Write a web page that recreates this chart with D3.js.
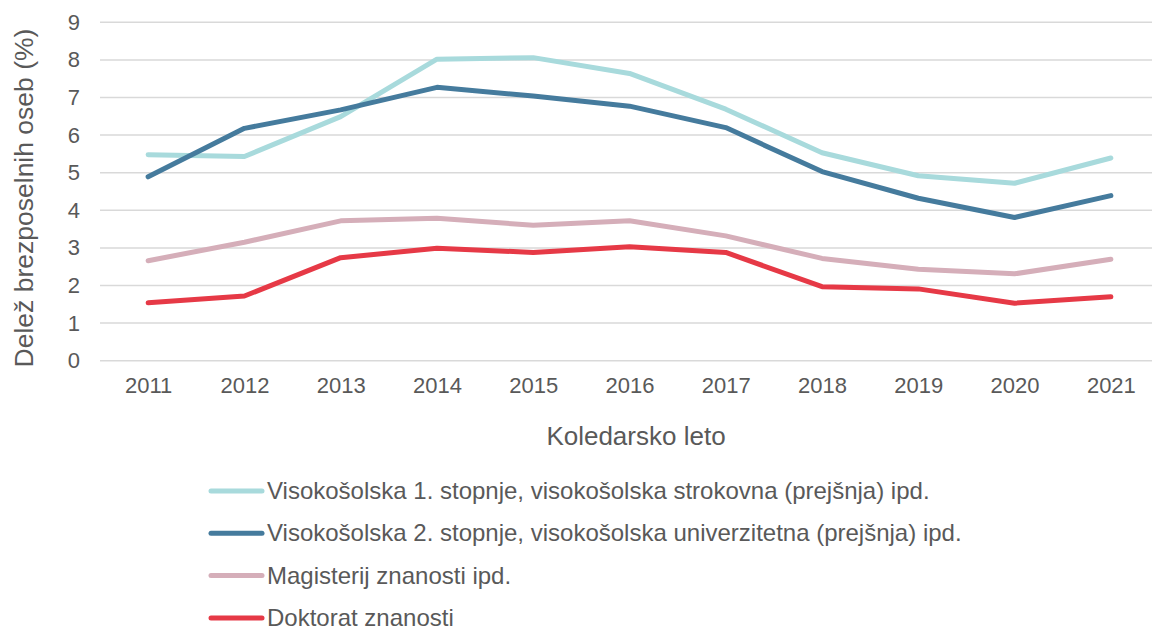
<!DOCTYPE html>
<html>
<head>
<meta charset="utf-8">
<script src="https://cdn.jsdelivr.net/npm/d3@7"></script>
<style>
  body { margin: 0; background: #fff; }
  .chart text { font-family: "Liberation Sans", Arial, sans-serif; fill: #595959; }
</style>
</head>
<body>
<div class="chart"></div>
<script>
var years = ["2011", "2012", "2013", "2014", "2015", "2016", "2017", "2018", "2019", "2020", "2021"];
var yTicks = [0, 1, 2, 3, 4, 5, 6, 7, 8, 9];

var visoko1 = [5.48, 5.43, 6.49, 8.02, 8.06, 7.64, 6.69, 5.53, 4.92, 4.72, 5.39];
var visoko2 = [4.89, 6.18, 6.67, 7.27, 7.04, 6.77, 6.20, 5.03, 4.32, 3.81, 4.39];
var magisterij = [2.66, 3.15, 3.72, 3.79, 3.60, 3.72, 3.32, 2.72, 2.43, 2.31, 2.70];
var doktorat = [1.54, 1.72, 2.74, 2.99, 2.88, 3.03, 2.88, 1.97, 1.91, 1.53, 1.70];

var seriesNames = [
  "Visokošolska 1. stopnje, visokošolska strokovna (prejšnja) ipd.",
  "Visokošolska 2. stopnje, visokošolska univerzitetna (prejšnja) ipd.",
  "Magisterij znanosti ipd.",
  "Doktorat znanosti"
];
var seriesColors = ["#a8dadc", "#457b9d", "#d5aeb9", "#e63946"];

var series = [visoko1, visoko2, magisterij, doktorat].map(function(vals, i) {
  return { name: seriesNames[i], color: seriesColors[i], values: vals.map(function(v, j) { return { x: years[j], y: v }; }) };
});

var width = 1152, height = 627;
var chart = { left: 100, right: 1159, top: 22.3, bottom: 360.7 };

var svg = d3.select(".chart").append("svg")
  .attr("width", width)
  .attr("height", height);

var xScale = d3.scalePoint().domain(years).range([chart.left, chart.right]).padding(0.5);
var yScale = d3.scaleLinear().domain([0, 9]).range([chart.bottom, chart.top]);

// gridlines
svg.append("g")
  .selectAll("line")
  .data(yTicks)
  .enter().append("line")
  .attr("x1", chart.left)
  .attr("x2", chart.right)
  .attr("y1", d => yScale(d))
  .attr("y2", d => yScale(d))
  .attr("stroke", "#d9d9d9")
  .attr("stroke-width", 1.5);

// y axis
var yAxis = svg.append("g")
  .attr("transform", `translate(${chart.left}, 0)`)
  .call(d3.axisLeft(yScale).tickValues(yTicks).tickSize(0).tickPadding(20));
yAxis.select(".domain").remove();
yAxis.selectAll("text").style("font-size", "22px");

// x axis
var xAxis = svg.append("g")
  .attr("transform", `translate(0, ${chart.bottom})`)
  .call(d3.axisBottom(xScale).tickSize(0).tickPadding(17));
xAxis.select(".domain").remove();
xAxis.selectAll("text").style("font-size", "22px");

// axis titles
svg.append("text")
  .attr("x", 636)
  .attr("y", 445)
  .attr("text-anchor", "middle")
  .style("font-size", "26px")
  .text("Koledarsko leto");

svg.append("text")
  .attr("transform", "translate(33, 198) rotate(-90)")
  .attr("text-anchor", "middle")
  .style("font-size", "26.5px")
  .text("Delež brezposelnih oseb (%)");

// lines
var line = d3.line()
  .x(d => xScale(d.x))
  .y(d => yScale(d.y));

svg.append("g")
  .selectAll("path")
  .data(series)
  .enter().append("path")
  .attr("d", d => line(d.values))
  .attr("fill", "none")
  .attr("stroke", d => d.color)
  .attr("stroke-width", 5)
  .attr("stroke-linecap", "round")
  .attr("stroke-linejoin", "round");

// legend
var legend = svg.append("g")
  .selectAll("g")
  .data(series)
  .enter().append("g")
  .attr("transform", (d, i) => `translate(0, ${491 + i * 42.3})`);

legend.append("line")
  .attr("x1", 211)
  .attr("x2", 262)
  .attr("stroke", d => d.color)
  .attr("stroke-width", 5)
  .attr("stroke-linecap", "round");

legend.append("text")
  .attr("x", 267)
  .attr("dy", "0.33em")
  .style("font-size", "24px")
  .text(d => d.name);
</script>
</body>
</html>
